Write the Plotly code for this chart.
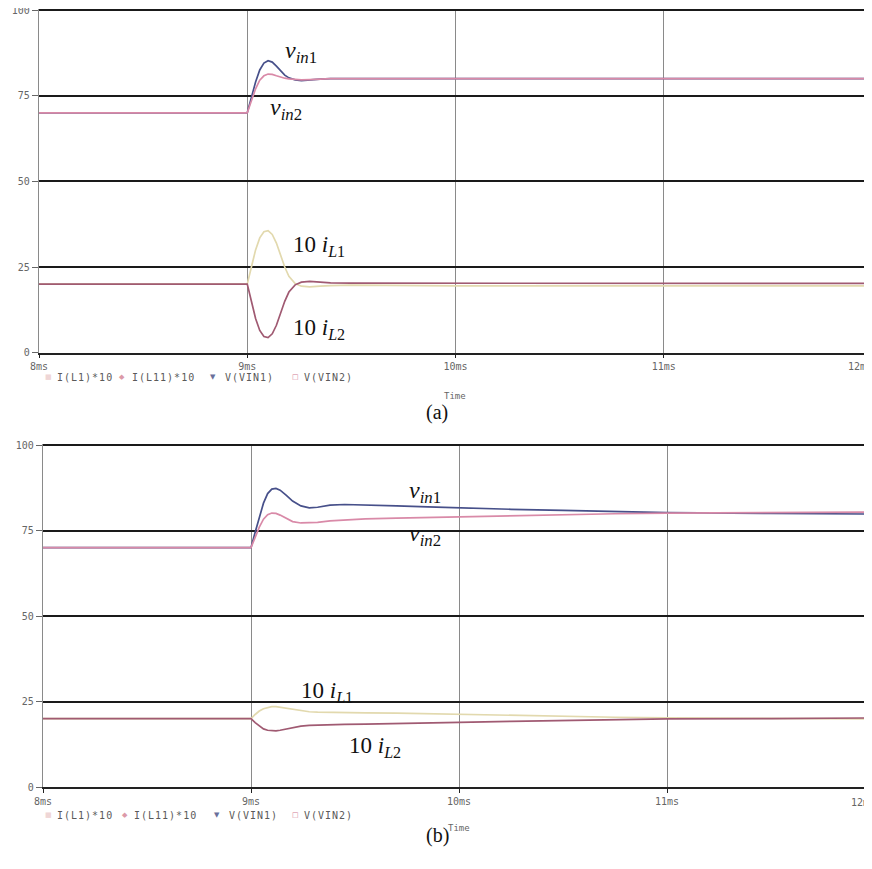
import plotly.graph_objects as go

# ---------------- data ----------------
t_a = [8.0, 9.0, 9.02, 9.04, 9.06, 9.08, 9.10, 9.12, 9.14, 9.16, 9.18, 9.20,
       9.23, 9.26, 9.30, 9.35, 9.40, 9.50, 9.70, 10.0, 10.5, 11.0, 11.5, 12.0]
il1_a = [20, 20, 25, 30, 33.5, 35.3, 35.6, 34.5, 32, 28.5, 25, 22.3,
         20.2, 19.4, 19.2, 19.4, 19.6, 19.7, 19.6, 19.5, 19.5, 19.5, 19.5, 19.5]
il2_a = [20, 20, 15, 10, 6.5, 4.7, 4.4, 5.5, 8, 11.5, 15, 17.7,
         19.8, 20.6, 20.8, 20.6, 20.4, 20.3, 20.3, 20.3, 20.2, 20.2, 20.2, 20.2]
vin1_a = [70, 70, 74.5, 79, 82.5, 84.5, 85.2, 84.8, 83.6, 82.2, 81, 80.2,
          79.6, 79.4, 79.5, 79.8, 80, 80, 80, 80, 80, 80, 80, 80]
vin2_a = [70, 70, 73.5, 77, 79.5, 80.8, 81.3, 81.2, 80.8, 80.4, 80.1, 79.9,
          79.7, 79.6, 79.7, 79.9, 80, 80, 80, 80, 80, 80, 80, 80]

t_b = [8.0, 9.0, 9.02, 9.04, 9.06, 9.08, 9.10, 9.12, 9.14, 9.17, 9.20, 9.24, 9.28,
       9.32, 9.38, 9.45, 9.55, 9.70, 9.85, 10.0, 10.25, 10.5, 10.75, 11.0, 11.5, 12.0]
il1_b = [20, 20, 21.2, 22.2, 22.9, 23.3, 23.5, 23.5, 23.3, 23.0, 22.6, 22.2, 22.0,
         21.9, 21.9, 21.8, 21.7, 21.6, 21.4, 21.3, 21.0, 20.7, 20.4, 20.2, 20.0, 19.9]
il2_b = [20, 20, 18.8, 17.8, 17.0, 16.6, 16.4, 16.4, 16.6, 17.0, 17.4, 17.8, 18.0,
         18.1, 18.2, 18.3, 18.4, 18.5, 18.7, 18.9, 19.2, 19.4, 19.6, 19.9, 20.0, 20.2]
vin1_b = [70, 70, 74.5, 79, 83, 85.8, 87.1, 87.3, 86.8, 85.3, 83.6, 82.2, 81.6,
          81.8, 82.4, 82.6, 82.5, 82.2, 81.9, 81.6, 81.2, 80.9, 80.5, 80.2, 80.0, 79.8]
vin2_b = [70, 70, 73, 76, 78.3, 79.6, 80.1, 80.0, 79.5, 78.5, 77.6, 77.2, 77.2,
          77.4, 77.8, 78.1, 78.4, 78.6, 78.8, 79.0, 79.4, 79.7, 79.9, 80.1, 80.3, 80.4]

series_names = ["I(L1)*10", "I(L11)*10", "V(VIN1)", "V(VIN2)"]
y_ticks = [0, 25, 50, 75, 100]
x_ticks = [8, 9, 10, 11, 12]
x_ticklabels = ["8ms", "9ms", "10ms", "11ms", ""]   # last one drawn shifted, PSpice style
last_x_label = "12ms"

# ---------------- styling ----------------
colors = ["#e2d9ae", "#a05a72", "#47508a", "#d98aa8"]
W, H = 872, 869
OFF = 8  # page body margin: figure sits 8px right/down of the window corner
MONO = "DejaVu Sans Mono"
SERIF = "Liberation Serif"
YPAD = 0.3  # small headroom so the 100 grid line is drawn

def px_x(p):  # window pixel -> paper x
    return (p - OFF) / W

def px_y(p):  # window pixel -> paper y
    return 1 - (p - OFF) / H

fig = go.Figure()

panels = [
    ("x", "y", t_a, [il1_a, il2_a, vin1_a, vin2_a]),
    ("x2", "y2", t_b, [il1_b, il2_b, vin1_b, vin2_b]),
]
for xa, ya, t, ys in panels:
    for name, col, yy in zip(series_names, colors, ys):
        fig.add_trace(go.Scatter(x=t, y=yy, name=name, mode="lines",
                                 line=dict(color=col, width=1.7),
                                 xaxis=xa, yaxis=ya, showlegend=False))

def xaxis(domain):
    return dict(domain=domain, range=[8, 12], tickvals=x_ticks, ticktext=x_ticklabels,
                showgrid=True, gridcolor="#8a8a8a", gridwidth=1,
                showline=True, linecolor="#222222", linewidth=1.5,
                ticks="outside", ticklen=4, tickcolor="#222222",
                tickfont=dict(family=MONO, size=10, color="#666666"),
                ticklabeloverflow="allow", zeroline=False, fixedrange=True,
                automargin=False)

def yaxis(domain, anchor):
    return dict(domain=domain, range=[0, 100 + YPAD], tickvals=y_ticks,
                showgrid=True, gridcolor="#1a1a1a", gridwidth=1.5,
                showline=True, linecolor="#8a8a8a", linewidth=1.2,
                ticks="outside", ticklen=6, tickcolor="#666666",
                tickfont=dict(family=MONO, size=10, color="#666666"),
                ticklabeloverflow="allow",
                zeroline=False, anchor=anchor, fixedrange=True,
                automargin=False)

pxu_a = (352.7 - 10) / 100.0
pxu_b = (787 - 445) / 100.0
fig.update_layout(
    width=W, height=H,
    margin=dict(l=0, r=0, t=0, b=0, pad=0),
    paper_bgcolor="white", plot_bgcolor="white",
    showlegend=False,
    xaxis=dict(**xaxis([px_x(39), px_x(872)]), anchor="y"),
    yaxis=yaxis([px_y(352.7), px_y(10 - YPAD * pxu_a)], "x"),
    xaxis2=dict(**xaxis([px_x(43), px_x(875)]), anchor="y2"),
    yaxis2=yaxis([px_y(787), px_y(445 - YPAD * pxu_b)], "x2"),
)

ann = []
def lab(text, x, y, xr, yr, size=24):
    ann.append(dict(text=text, x=x, y=y, xref=xr, yref=yr, xanchor="left", yanchor="middle",
                    showarrow=False, font=dict(family=SERIF, size=size, color="#111111")))

v1 = "<i>v</i><sub><i>in</i>1</sub>"
v2 = "<i>v</i><sub><i>in</i>2</sub>"
i1 = "10 <i>i</i><sub><i>L</i>1</sub>"
i2 = "10 <i>i</i><sub><i>L</i>2</sub>"
lab(v1, 9.17, 87.7, "x", "y")
lab(v2, 9.10, 71.0, "x", "y")
lab(i1, 9.21, 31.0, "x", "y", 23)
lab(i2, 9.21, 7.0, "x", "y", 23)
lab(v1, 9.75, 86.3, "x2", "y2")
lab(v2, 9.75, 73.6, "x2", "y2")
lab(i1, 9.23, 27.8, "x2", "y2", 23)
lab(i2, 9.46, 11.6, "x2", "y2", 23)

# last x tick label, pulled inside the frame as PSpice does
for px, py in [(874, 366), (877, 802)]:
    ann.append(dict(text=last_x_label, x=px_x(px), y=px_y(py), xref="paper", yref="paper",
                    xanchor="right", yanchor="middle", showarrow=False,
                    font=dict(family=MONO, size=10, color="#666666")))

# PSpice style legend rows
symbols = ["■", "◆", "▼", "□"]
sym_cols = ["#efd6d6", "#dc9aa8", "#6a6f9a", "#d07a94"]
sym_x = [[48, 122, 213, 295], [48, 125, 217, 295]]
txt_x = [[55, 130, 223, 302], [55, 132, 227, 302]]
for row_y, sx, tx in zip([377, 815], sym_x, txt_x):
    for s, c, nm, p1, p2 in zip(symbols, sym_cols, series_names, sx, tx):
        ann.append(dict(text=s, x=px_x(p1), y=px_y(row_y), xref="paper", yref="paper",
                        xanchor="center", yanchor="middle", showarrow=False,
                        font=dict(family="DejaVu Sans", size=7, color=c)))
        ann.append(dict(text=f"<span style='letter-spacing:1px'>{nm}</span>",
                        x=px_x(p2), y=px_y(row_y), xref="paper", yref="paper",
                        xanchor="left", yanchor="middle", showarrow=False,
                        font=dict(family=MONO, size=10, color="#5a5a5a")))

for px, py, txt in [(455, 396, "Time"), (459, 835, "Time")]:
    ann.append(dict(text=txt, x=px_x(px), y=px_y(py), xref="paper", yref="paper",
                    showarrow=False, font=dict(family=MONO, size=9, color="#666666")))
for px, py, txt in [(437, 412, "(a)"), (437, 849, "(b)")]:
    ann.append(dict(text=txt, x=px_x(px), y=px_y(py), xref="paper", yref="paper",
                    showarrow=False, font=dict(family=SERIF, size=20, color="#111111")))

fig.update_layout(annotations=ann)
fig.write_html("out.html")
